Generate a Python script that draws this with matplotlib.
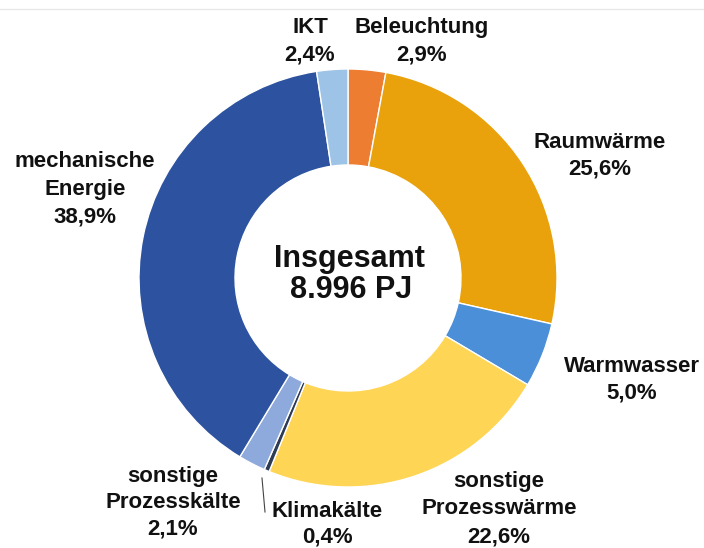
import matplotlib
matplotlib.use("Agg")
import matplotlib.pyplot as plt

# ---- data ----
categories = ["Beleuchtung", "Raumwärme", "Warmwasser", "sonstige\nProzesswärme",
              "Klimakälte", "sonstige\nProzesskälte", "mechanische\nEnergie", "IKT"]
shares = [2.9, 25.6, 5.0, 22.6, 0.4, 2.1, 38.9, 2.4]
colors = ["#ED7D31", "#E9A20C", "#4A8FD8", "#FFD555",
          "#2E3B55", "#8EA9DB", "#2D53A0", "#9DC3E6"]
center_title = "Insgesamt"
center_value = "8.996 PJ"

# ---- layout (pixel coordinates, y from top) ----
W, H = 704, 548
CX, CY = 348, 278
R_OUT, R_IN = 209, 113
# (x centre, first baseline y, line spacing) per label
label_pos = [(421.5, 33, 28), (600, 148, 26), (632, 372, 26), (499, 487, 27.5),
             (327, 517, 26), (173, 482, 26.5), (85, 167, 27.5), (310, 33, 28)]

FONT = ["Liberation Sans", "DejaVu Sans"]

fig = plt.figure(figsize=(W / 100, H / 100), dpi=100)
ax = fig.add_axes([0, 0, 1, 1])

ax.pie(shares, colors=colors, startangle=90, counterclock=False,
       center=(CX, H - CY), radius=R_OUT,
       wedgeprops=dict(width=R_OUT - R_IN, edgecolor="white", linewidth=1.0))

ax.set_xlim(0, W)
ax.set_ylim(0, H)
ax.set_aspect("equal")
ax.axis("off")

def fmt(v):
    return f"{v:.1f}".replace(".", ",") + "%"

for cat, val, (x, y0, dy) in zip(categories, shares, label_pos):
    lines = cat.split("\n") + [fmt(val)]
    for i, line in enumerate(lines):
        ax.text(x, H - (y0 + i * dy), line, ha="center", va="baseline",
                fontsize=16, fontweight="bold", family=FONT, color="#111111")

# leader line for Klimakälte
ax.plot([262, 265], [H - 478, H - 512], color="#444444", linewidth=0.8)

# centre text
ax.text(349.5, H - 267, center_title, ha="center", va="baseline",
        fontsize=22, fontweight="bold", family=FONT, color="#111111")
ax.text(351, H - 298, center_value, ha="center", va="baseline",
        fontsize=22, fontweight="bold", family=FONT, color="#111111")

# faint top rule
ax.plot([0, W], [H - 9, H - 9], color="#E8E8E8", linewidth=1.0)

fig.savefig("out.png", dpi=100)
